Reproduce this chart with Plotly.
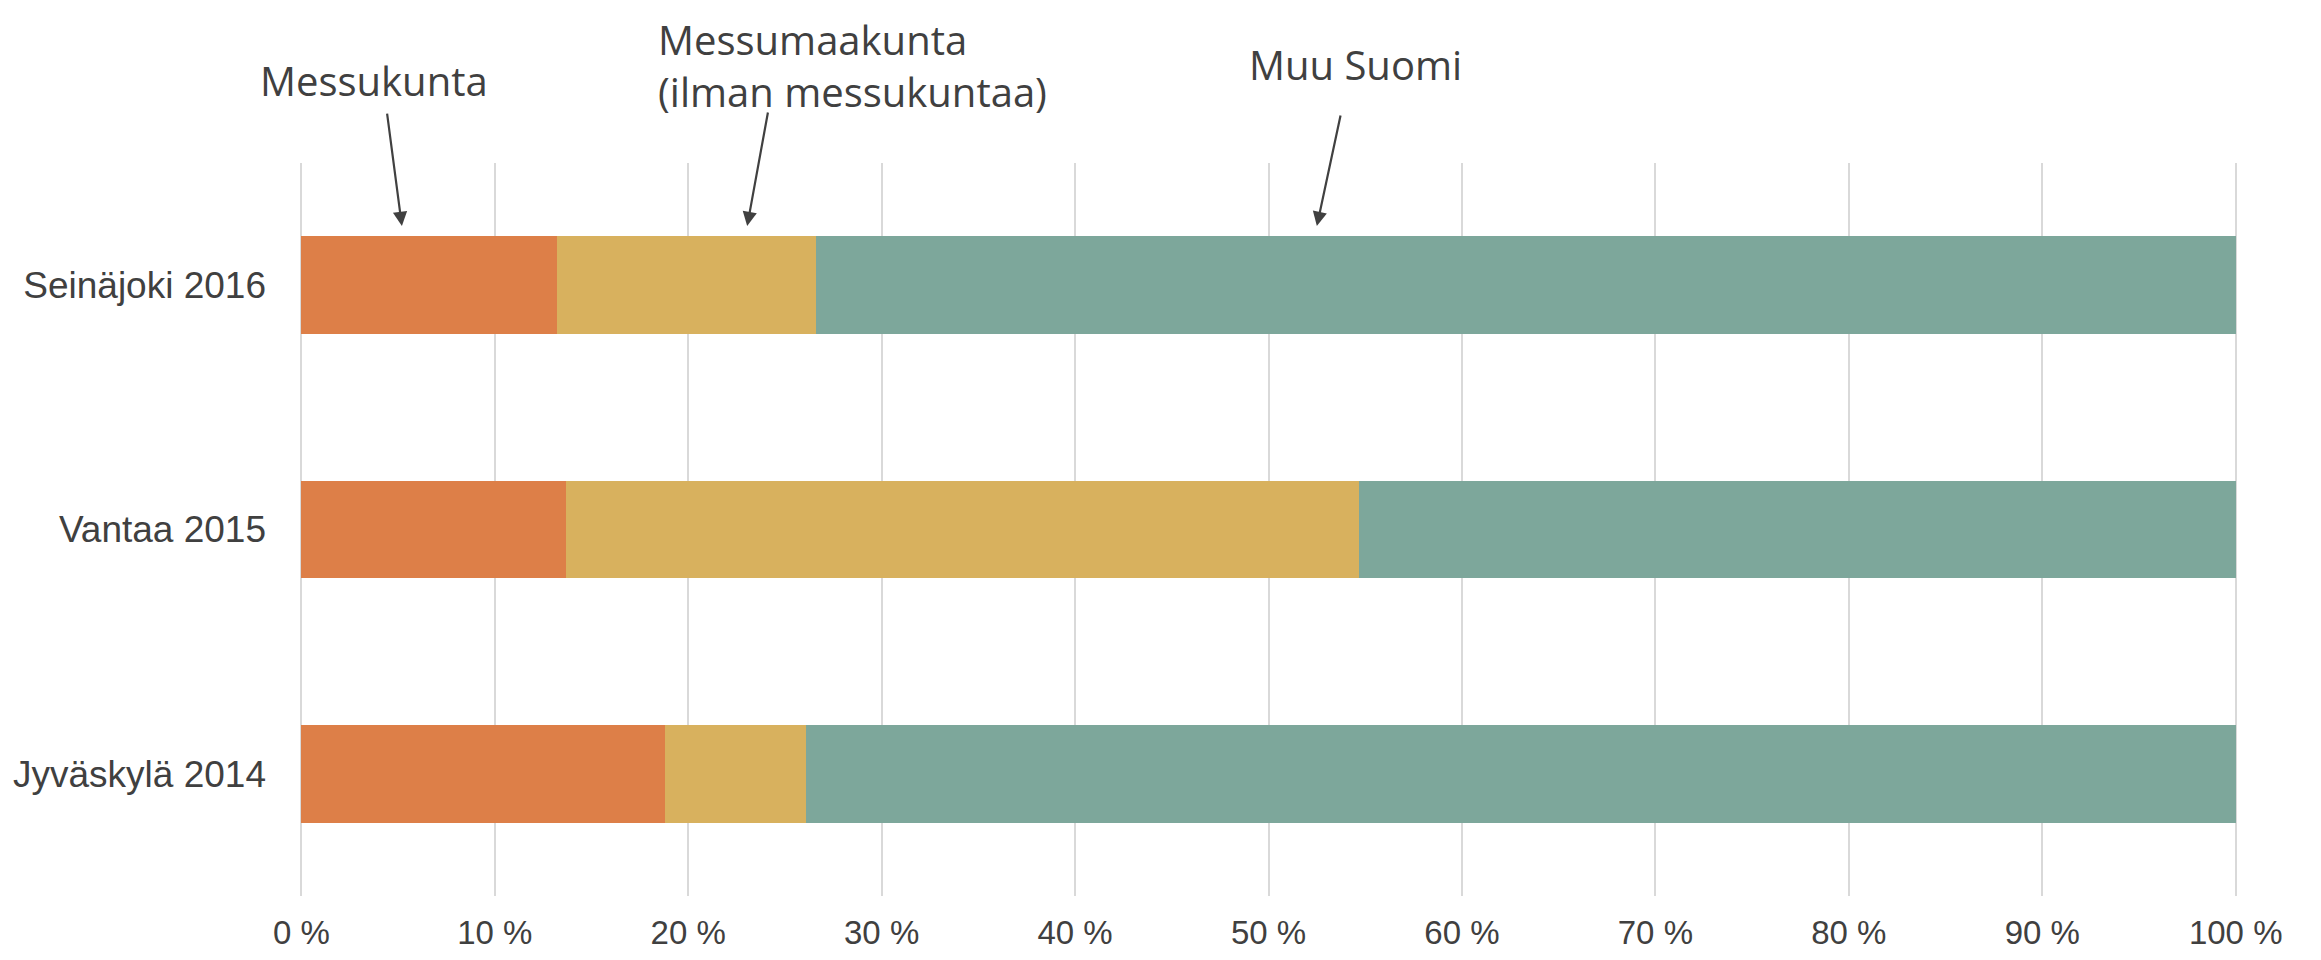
import plotly.graph_objects as go

categories = ["Seinäjoki 2016", "Vantaa 2015", "Jyväskylä 2014"]
messukunta = [13.2, 13.7, 18.8]
messumaakunta = [13.4, 41.0, 7.3]
muu_suomi = [73.4, 45.3, 73.9]

series_names = ["Messukunta", "Messumaakunta (ilman messukuntaa)", "Muu Suomi"]
tick_values = [0, 10, 20, 30, 40, 50, 60, 70, 80, 90, 100]
tick_labels = [f"{v} %" for v in tick_values]

colors = ["#dd7f48", "#d8b15e", "#7da79b"]
text_color = "#404040"
label_font = "Liberation Sans Narrow, Arial Narrow, Liberation Sans, sans-serif"
note_font = "Open Sans, Noto Sans, sans-serif"

fig = go.Figure()
for name, values, color in zip(series_names, [messukunta, messumaakunta, muu_suomi], colors):
    fig.add_trace(
        go.Bar(
            x=values,
            y=categories,
            orientation="h",
            name=name,
            marker={"color": color, "line": {"width": 0}},
            width=0.4,
            showlegend=False,
        )
    )

# text labels with arrows pointing at the top bar
notes = [
    # text, text x (paper), text y (paper), align, anchor, arrow head x (data), ax, ay
    ("Messukunta", 0.0387, 1.112, "center", "center", 5.2, -15, -114),
    ("Messumaakunta<br>(ilman messukuntaa)", 0.184, 1.133, "left", "left", 23.05, 21, -115),
    ("Muu Suomi", 0.545, 1.135, "center", "center", 52.5, 24, -112),
]
for text, tx, ty, align, xanchor, hx, ax, ay in notes:
    fig.add_annotation(
        x=tx, y=ty, xref="paper", yref="paper", text=text, showarrow=False,
        xanchor=xanchor, yanchor="middle", align=align,
        font={"family": note_font, "size": 40, "color": text_color},
    )
    fig.add_annotation(
        x=hx, y=0.914, xref="x", yref="paper", text="", showarrow=True,
        ax=ax, ay=ay, arrowhead=2, arrowsize=1.3, arrowwidth=2.2,
        arrowcolor=text_color, standoff=0,
    )

# page body has an 8px margin, so the figure is a bit smaller than the window
fig.update_layout(
    barmode="stack",
    width=2305,
    height=944,
    paper_bgcolor="white",
    plot_bgcolor="white",
    margin={"l": 291, "r": 75, "t": 155, "b": 56},
    bargap=0.6,
)
fig.update_xaxes(
    range=[-0.12, 100.12],
    tickvals=tick_values,
    ticktext=tick_labels,
    showgrid=True,
    gridcolor="#d9d9d9",
    gridwidth=2,
    zeroline=False,
    showline=False,
    ticks="",
    automargin=False,
    ticklabelstandoff=14,
    tickfont={"family": label_font, "size": 33, "color": text_color},
)
fig.update_yaxes(
    categoryorder="array",
    categoryarray=categories[::-1],
    showgrid=False,
    zeroline=False,
    showline=False,
    ticks="",
    automargin=False,
    ticklabelstandoff=32,
    tickfont={"family": label_font, "size": 37, "color": text_color},
)

fig.write_html("out.html")
